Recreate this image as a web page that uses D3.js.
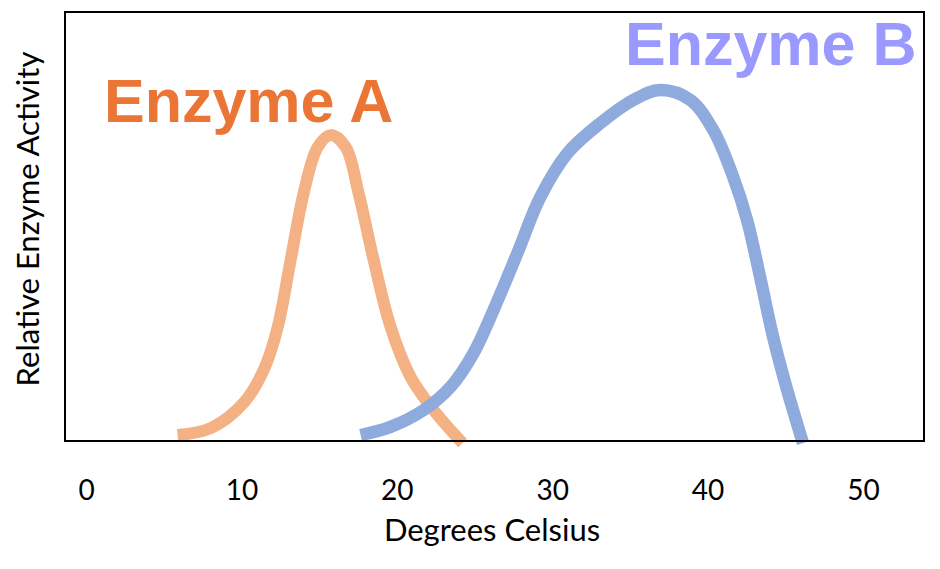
<!DOCTYPE html>
<html>
<head>
<meta charset="utf-8">
<script src="https://cdn.jsdelivr.net/npm/d3@7"></script>
<style>
html,body{margin:0;padding:0;background:#fff;}
svg{display:block;}
</style>
</head>
<body>
<svg id="chart" width="940" height="569"></svg>
<script>
// ---- data ----
const xTicks = [0, 10, 20, 30, 40, 50];
const enzymeATemp = [5.89, 8.03, 10.15, 11.44, 12.34, 13.17, 14.01, 14.91, 15.75, 16.71, 17.54, 18.51, 19.6, 20.89, 22.37, 24.23];
const enzymeAAct  = [1.4, 3.0, 8.9, 16.6, 26.6, 42.2, 57.8, 68.5, 71.3, 68.5, 57.8, 42.2, 26.6, 14.9, 7.2, -0.5];
const enzymeBTemp = [17.67, 19.6, 21.72, 23.46, 24.94, 26.22, 27.76, 29.24, 30.98, 33.1, 35.22, 36.95, 38.88, 40.36, 41.65, 42.54, 43.38, 44.22, 45.12, 46.14];
const enzymeBAct  = [1.4, 3.3, 7.2, 12.6, 20.5, 30.5, 43.8, 56.9, 67.1, 74.1, 79.5, 81.8, 79.5, 72.5, 61.5, 51.5, 38.2, 24.2, 11.9, -0.5];
const seriesNames = ["Enzyme A", "Enzyme B"];
const xTitle = "Degrees Celsius";
const yTitle = "Relative Enzyme Activity";

// ---- layout ----
const svg = d3.select("#chart");
const frame = {left: 65, right: 924, top: 12, bottom: 441};
const x = d3.scaleLinear().domain([0, 50]).range([86, 863]);
const y = d3.scaleLinear().domain([0, 100]).range([frame.bottom, frame.top]);

const line = d3.line()
  .x(d => x(d[0]))
  .y(d => y(d[1]))
  .curve(d3.curveCatmullRom.alpha(0.5));

const dataA = enzymeATemp.map((t, i) => [t, enzymeAAct[i]]);
const dataB = enzymeBTemp.map((t, i) => [t, enzymeBAct[i]]);

// curves
svg.append("path").datum(dataA)
  .attr("d", line)
  .attr("fill", "none")
  .attr("stroke", "#F4B183")
  .attr("stroke-width", 12)
  .attr("stroke-linecap", "butt");

svg.append("path").datum(dataB)
  .attr("d", line)
  .attr("fill", "none")
  .attr("stroke", "#8FAADC")
  .attr("stroke-width", 12.5)
  .attr("stroke-linecap", "butt");

// frame
svg.append("rect")
  .attr("x", frame.left).attr("y", frame.top)
  .attr("width", frame.right - frame.left)
  .attr("height", frame.bottom - frame.top)
  .attr("fill", "none")
  .attr("stroke", "#000")
  .attr("stroke-width", 2);

// x axis tick labels
const xAxis = d3.axisBottom(x).tickValues(xTicks).tickSize(0).tickPadding(0).tickFormat(d3.format("d"));
const gx = svg.append("g").attr("transform", "translate(0,479)").call(xAxis);
gx.select(".domain").remove();
gx.selectAll("text")
  .attr("dy", null)
  .attr("y", 21)
  .style("font-family", "Lato, 'Open Sans', sans-serif")
  .style("font-size", "28px")
  .style("fill", "#000");

// axis titles
svg.append("text")
  .attr("x", 492).attr("y", 541)
  .attr("text-anchor", "middle")
  .style("font-family", "Lato, 'Open Sans', sans-serif")
  .style("font-size", "31px")
  .style("fill", "#000")
  .text(xTitle);

svg.append("text")
  .attr("transform", "translate(39,219) rotate(-90)")
  .attr("text-anchor", "middle")
  .style("font-family", "Lato, 'Open Sans', sans-serif")
  .style("font-size", "31px")
  .style("fill", "#000")
  .text(yTitle);

// series labels
svg.append("text")
  .attr("x", 104).attr("y", 122)
  .style("font-family", "'Liberation Sans', Arial, sans-serif")
  .style("font-weight", "bold")
  .style("font-size", "61px")
  .style("fill", "#EB7535")
  .text(seriesNames[0]);

svg.append("text")
  .attr("x", 625).attr("y", 65)
  .style("font-family", "'Liberation Sans', Arial, sans-serif")
  .style("font-weight", "bold")
  .style("font-size", "61px")
  .style("fill", "#9999FF")
  .text(seriesNames[1]);
</script>
</body>
</html>
